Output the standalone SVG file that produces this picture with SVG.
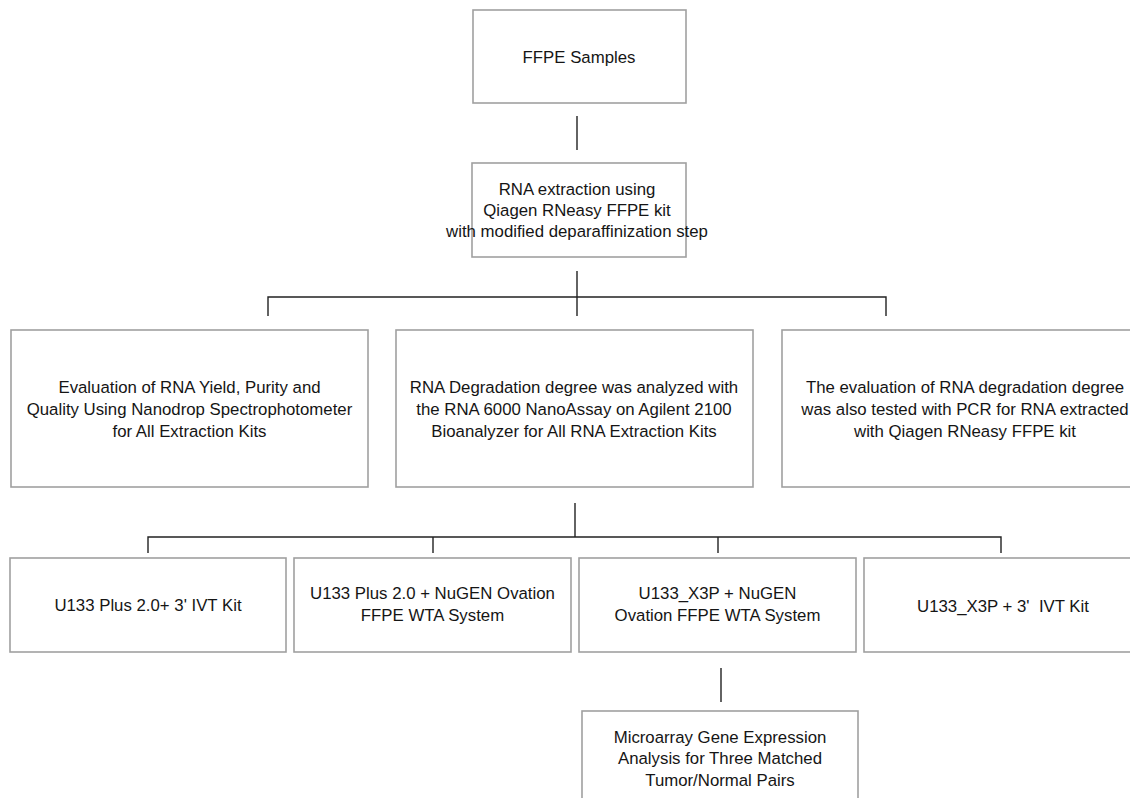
<svg xmlns="http://www.w3.org/2000/svg" width="1130" height="798" viewBox="0 0 1130 798">
<style>
.box{fill:#fff;stroke:#a0a0a0;stroke-width:1.6}
.t{font-family:"Liberation Sans",Arial,sans-serif;font-size:16.8px;fill:#151515;text-anchor:middle}
.c{stroke:#222;stroke-width:1.4;fill:none}
</style>
<rect width="1130" height="798" fill="#fff"/>
<g id="connectors">
<line class="c" x1="577" y1="116" x2="577" y2="150"/>
<line class="c" x1="577" y1="271" x2="577" y2="316"/>
<polyline class="c" points="268,316 268,297 886,297 886,316"/>
<line class="c" x1="575" y1="503" x2="575" y2="537"/>
<polyline class="c" points="148,553 148,537 1001,537 1001,553"/>
<line class="c" x1="433" y1="537" x2="433" y2="553"/>
<line class="c" x1="718" y1="537" x2="718" y2="553"/>
<line class="c" x1="721" y1="668" x2="721" y2="702"/>
</g>
<g id="ffpe">
<rect class="box" x="473" y="10" width="213" height="93"/>
<text class="t" x="579" y="63">FFPE Samples</text>
</g>
<g id="extraction">
<rect class="box" x="472" y="163" width="214" height="94"/>
<text class="t" x="577" y="195">RNA extraction using</text>
<text class="t" x="577" y="216">Qiagen RNeasy FFPE kit</text>
<text class="t" x="577" y="237">with modified deparaffinization step</text>
</g>
<g id="evaluation">
<rect class="box" x="11" y="330" width="357" height="157"/>
<text class="t" x="189.5" y="393">Evaluation of RNA Yield, Purity and</text>
<text class="t" x="189.5" y="415">Quality Using Nanodrop Spectrophotometer</text>
<text class="t" x="189.5" y="437">for All Extraction Kits</text>
</g>
<g id="degradation">
<rect class="box" x="396" y="330" width="357" height="157"/>
<text class="t" x="574" y="393">RNA Degradation degree was analyzed with</text>
<text class="t" x="574" y="415">the RNA 6000 NanoAssay on Agilent 2100</text>
<text class="t" x="574" y="437">Bioanalyzer for All RNA Extraction Kits</text>
</g>
<g id="pcr">
<rect class="box" x="782" y="330" width="366" height="157"/>
<text class="t" x="965" y="393">The evaluation of RNA degradation degree</text>
<text class="t" x="965" y="415">was also tested with PCR for RNA extracted</text>
<text class="t" x="965" y="437">with Qiagen RNeasy FFPE kit</text>
</g>
<g id="u133plus-ivt">
<rect class="box" x="10" y="558" width="276" height="94"/>
<text class="t" x="148" y="611">U133 Plus 2.0+ 3' IVT Kit</text>
</g>
<g id="u133plus-nugen">
<rect class="box" x="294" y="558" width="277" height="94"/>
<text class="t" x="432.5" y="599">U133 Plus 2.0 + NuGEN Ovation</text>
<text class="t" x="432.5" y="621">FFPE WTA System</text>
</g>
<g id="x3p-nugen">
<rect class="box" x="579" y="558" width="277" height="94"/>
<text class="t" x="717.5" y="599">U133_X3P + NuGEN</text>
<text class="t" x="717.5" y="621">Ovation FFPE WTA System</text>
</g>
<g id="x3p-ivt">
<rect class="box" x="864" y="558" width="278" height="94"/>
<text class="t" x="1003" y="612" xml:space="preserve">U133_X3P + 3'  IVT Kit</text>
</g>
<g id="microarray">
<rect class="box" x="582" y="711" width="276" height="100"/>
<text class="t" x="720" y="743">Microarray Gene Expression</text>
<text class="t" x="720" y="764">Analysis for Three Matched</text>
<text class="t" x="720" y="786">Tumor/Normal Pairs</text>
</g>
</svg>
